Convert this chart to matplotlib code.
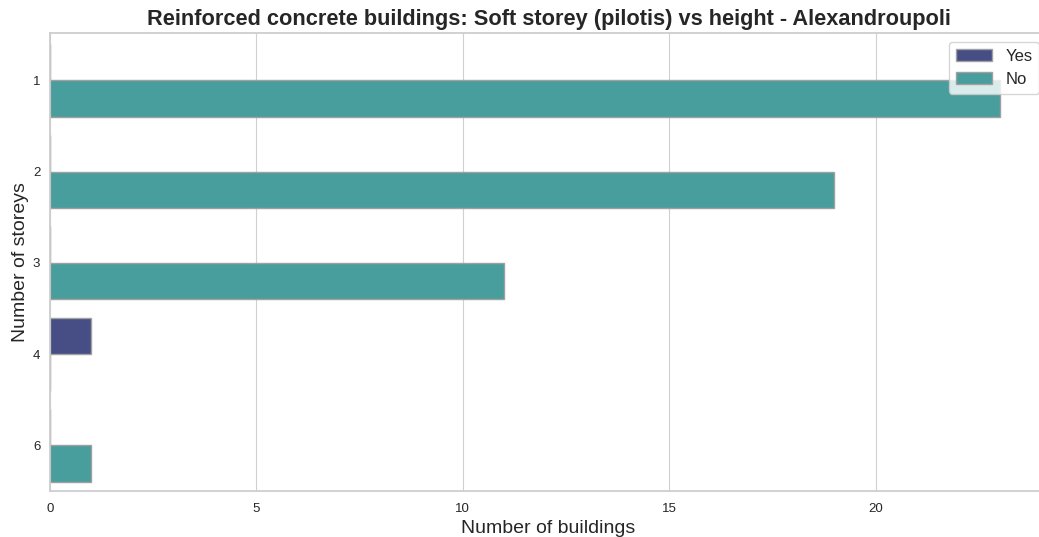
import matplotlib
matplotlib.use('Agg')
import matplotlib.pyplot as plt
import numpy as np
import seaborn as sns

sns.set_theme(style='whitegrid')
plt.rcParams['font.family'] = ['Liberation Sans', 'DejaVu Sans']

storeys = ['1', '2', '3', '4', '6']
hue_labels = ['Yes', 'No']
yes_counts = [0, 0, 0, 1, 0]
no_counts = [23, 19, 11, 0, 1]
colors = ['#474e86', '#489e9d']

fig = plt.figure(figsize=(10.39, 5.37), dpi=100)
# axes run a little past the right edge of the picture, as in the original
ax = fig.add_axes([50 / 1039, 1 - 491 / 537, 997 / 1039, 458 / 537])

pos = np.arange(len(storeys))
height = 0.4
for i, (label, vals) in enumerate(zip(hue_labels, [yes_counts, no_counts])):
    ax.barh(pos - height / 2 + i * height, vals, height=height, color=colors[i],
            edgecolor='#a0a0a0', linewidth=1, label=label)

ax.set_yticks(pos)
ax.set_yticklabels(storeys)
ax.set_ylim(len(storeys) - 0.5, -0.52)
ax.set_xlim(0, 24.15)
ax.set_xticks([0, 5, 10, 15, 20])
ax.grid(axis='y', visible=False)
ax.grid(axis='x', color='#d0d0d0', linewidth=0.8)
ax.tick_params(axis='both', labelsize=9.5, length=0)
ax.tick_params(axis='x', pad=9)
ax.tick_params(axis='y', pad=7)
for s in ax.spines.values():
    s.set_color('#cccccc')

ax.set_xlabel('Number of buildings', fontsize=14, labelpad=3)
ax.set_ylabel('Number of storeys', fontsize=14, labelpad=3)
ax.set_title('Reinforced concrete buildings: Soft storey (pilotis) vs height - Alexandroupoli',
             fontsize=15.7, fontweight='bold', pad=6)
leg = ax.legend(loc='upper left', bbox_to_anchor=(949 / 1039, 1 - 42 / 537),
                bbox_transform=fig.transFigure, fontsize=12, frameon=True,
                borderaxespad=0, handlelength=2.2)

fig.savefig('out.png', dpi=100)
